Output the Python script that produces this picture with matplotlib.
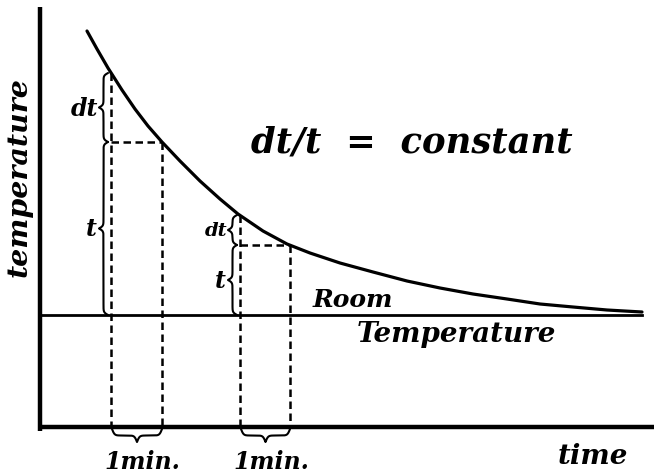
import numpy as np
import matplotlib
matplotlib.use("Agg")
import matplotlib.pyplot as plt

# cooling curve (time, temperature in arbitrary units)
curve_time = [47, 57, 68, 82, 95, 108, 122, 140, 160, 180, 198, 223, 247, 270,
              300, 333, 367, 400, 433, 467, 500, 533, 567, 602]
curve_temp = [396, 378, 359, 337, 318, 301, 285, 266, 246, 228, 213, 196, 183, 174,
              164, 155, 146, 139, 133, 128, 123, 120, 117, 115]
room_temp = 112
room_end = 602

# the two one-minute intervals
minute_start = [71, 200]
minute_end = [122, 250]
temp_start = [354, 212]
temp_end = [285, 182]

FONT = dict(family="DejaVu Serif", style="italic", weight="bold", color="black")


def brace(ax, a, b, base, depth, vertical=True, lw=1.5):
    # curly brace between a and b, sitting on "base", tip pushed out by depth
    n = 151
    L = abs(b - a)
    beta = 4.0 * L / 5.0
    u = np.linspace(0, 0.5, n)
    half = 1 / (1 + np.exp(-beta * u)) + 1 / (1 + np.exp(-beta * (u - 0.5))) - 0.5
    f = np.concatenate([half, half[-2::-1]])
    s = np.linspace(a, b, len(f))
    off = base + depth * f
    if vertical:
        ax.plot(off, s, color="k", lw=lw, solid_capstyle="round")
    else:
        ax.plot(s, off, color="k", lw=lw, solid_capstyle="round")


fig = plt.figure(figsize=(6.54, 4.77), dpi=100)
ax = fig.add_axes([0, 0, 1, 1])
ax.set_xlim(-40, 614)
ax.set_ylim(-49, 428)
ax.axis("off")

# axes
ax.plot([0, 0], [-4, 420], color="k", lw=3.2, solid_capstyle="butt")
ax.plot([-2, 614], [0, 0], color="k", lw=3.2, solid_capstyle="butt")

# room temperature and the curve
ax.plot([0, room_end], [room_temp, room_temp], color="k", lw=2.0)
ax.plot(curve_time, curve_temp, color="k", lw=2.3, solid_capstyle="round",
        solid_joinstyle="round")

dash = dict(color="k", lw=1.8, dashes=(3.0, 1.8))
for i in range(len(minute_start)):
    t0, t1 = minute_start[i], minute_end[i]
    T0, T1 = temp_start[i], temp_end[i]
    ax.plot([t0, t0], [T0, 0], **dash)
    ax.plot([t1, t1], [T1, 0], **dash)
    ax.plot([t0, t1], [T1, T1], **dash)

    brace(ax, T1, T0, t0 - 3, -9)
    brace(ax, room_temp, T1, t0 - 3, -9)
    brace(ax, t0 + 1, t1, -2, -13, vertical=False)

    fs = 17 if i == 0 else 14
    ax.text(t0 - 13, (T0 + T1) / 2, "dt", ha="right", va="center", fontsize=fs, **FONT)
    ax.text(t0 - 14, (room_temp + T1) / 2, "t", ha="right", va="center", fontsize=17, **FONT)
    ax.text((t0 + t1) / 2 + 6, -34, "1min.", ha="center", va="center", fontsize=17, **FONT)

ax.text(-21, 251, "temperature", rotation=90, ha="center", va="center", fontsize=20.5, **FONT)
ax.text(372, 285, "dt/t  =  constant", ha="center", va="center", fontsize=25.5, **FONT)
ax.text(273, 128, "Room", ha="left", va="center", fontsize=18, **FONT)
ax.text(416, 93, "Temperature", ha="center", va="center", fontsize=20, **FONT)
ax.text(553, -29, "time", ha="center", va="center", fontsize=20, **FONT)

fig.savefig("out.png", dpi=100, facecolor="white")
